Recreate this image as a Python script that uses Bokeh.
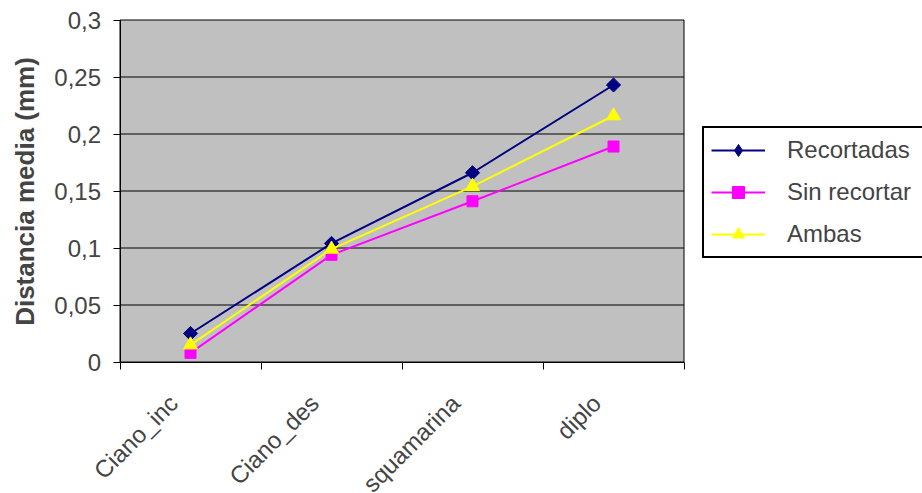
import math

from bokeh.plotting import figure
from bokeh.models import (FixedTicker, CustomJSTickFormatter, Legend, LegendItem,
                          Range1d)
from bokeh.embed import file_html
from bokeh.resources import INLINE

# Categories and series
categories = ["Ciano_inc", "Ciano_des", "squamarina", "diplo"]
recortadas = [0.025, 0.104, 0.166, 0.243]
sin_recortar = [0.008, 0.094, 0.141, 0.189]
ambas = [0.015, 0.099, 0.154, 0.216]
y_ticks = [0, 0.05, 0.1, 0.15, 0.2, 0.25, 0.3]
series_names = ["Recortadas", "Sin recortar", "Ambas"]

FONT = "Liberation Sans"
NAVY, MAGENTA, YELLOW = "#000080", "#FF00FF", "#FFFF00"
GRAY = "#C0C0C0"

# canvas layout (px): plot area box inside the full-canvas frame;
# half-pixel edges keep the 1px rules crisp
W, H = 922, 493
BOX_L, BOX_R, BOX_T, BOX_B = 119.5, 683.5, 19.5, 361.5

n = len(categories)
y_lo, y_hi = y_ticks[0], y_ticks[-1]
kx = (BOX_R - BOX_L) / n                # px per category
ky = (BOX_B - BOX_T) / (y_hi - y_lo)    # px per data unit

x_range = Range1d(-BOX_L / kx, n + (W - BOX_R) / kx)
y_range = Range1d(y_lo - (H - BOX_B) / ky, y_hi + BOX_T / ky)

# category centres sit halfway between the boundary ticks
xs = [i + 0.5 for i in range(n)]
# slanted labels end a little before the category centre
label_pos = [x - 0.12 for x in xs]

p = figure(width=W, height=H, output_backend="svg", toolbar_location=None,
           x_range=x_range, y_range=y_range, min_border=0)

p.background_fill_color = "white"
p.border_fill_color = "white"
p.outline_line_color = None
p.xgrid.grid_line_color = None
p.ygrid.grid_line_color = None

# plot area: gray box with black frame and horizontal gridlines
p.quad(left=[0], right=[n], bottom=[y_lo], top=[y_hi],
       fill_color=GRAY, line_color="black", line_width=1)
p.segment(x0=[0] * (len(y_ticks) - 2), x1=[n] * (len(y_ticks) - 2),
          y0=y_ticks[1:-1], y1=y_ticks[1:-1], line_color="black", line_width=1)

# y axis pinned to the left edge of the plot area
p.yaxis.fixed_location = 0
p.yaxis.bounds = (y_lo, y_hi)
p.yaxis.ticker = FixedTicker(ticks=y_ticks)
p.yaxis.formatter = CustomJSTickFormatter(
    code="return (Math.round(tick*100)/100).toString().replace('.', ',')")
p.yaxis.axis_label = "Distancia media (mm)"
p.yaxis.axis_label_text_font = FONT
p.yaxis.axis_label_text_font_style = "bold"
p.yaxis.axis_label_text_font_size = "26px"
p.yaxis.axis_label_standoff = 12
p.yaxis.major_label_text_font = FONT
p.yaxis.major_label_text_font_size = "24px"
p.yaxis.major_label_standoff = 12
p.yaxis.major_tick_out = 7
p.yaxis.major_tick_in = 0
p.yaxis.minor_tick_line_color = None
p.yaxis.axis_line_color = "black"

# x axis pinned to y = 0: boundary ticks as minor ticks, slanted labels
p.xaxis.fixed_location = y_lo
p.xaxis.bounds = (0, n)
p.xaxis.ticker = FixedTicker(ticks=label_pos, minor_ticks=list(range(n + 1)))
p.xaxis.formatter = CustomJSTickFormatter(
    args=dict(labels=categories), code="return labels[Math.round(tick)]")
p.xaxis.major_tick_out = 0
p.xaxis.major_tick_in = 0
p.xaxis.minor_tick_out = 7
p.xaxis.minor_tick_in = 0
p.xaxis.minor_tick_line_color = "black"
p.xaxis.major_label_orientation = math.pi / 4
p.xaxis.major_label_text_font = FONT
p.xaxis.major_label_text_font_size = "24px"
p.xaxis.major_label_standoff = 30
p.xaxis.axis_line_color = "black"

# series
l1 = p.line(xs, recortadas, line_color=NAVY, line_width=2)
p.scatter(xs, recortadas, marker="square", size=10, angle=math.pi / 4,
          fill_color=NAVY, line_color=NAVY)
k1 = p.scatter(xs, recortadas, marker="diamond", size=16,
               fill_color=NAVY, line_color=NAVY, visible=False)
l2 = p.line(xs, sin_recortar, line_color=MAGENTA, line_width=2)
m2 = p.scatter(xs, sin_recortar, marker="square", size=11,
               fill_color=MAGENTA, line_color=MAGENTA)
l3 = p.line(xs, ambas, line_color=YELLOW, line_width=2)
m3 = p.scatter(xs, ambas, marker="triangle", size=14,
               fill_color=YELLOW, line_color=YELLOW)

legend = Legend(items=[
    LegendItem(label=series_names[0], renderers=[l1, k1]),
    LegendItem(label=series_names[1], renderers=[l2, m2]),
    LegendItem(label=series_names[2], renderers=[l3, m3]),
], location=(702, H - 258))
legend.label_text_font = FONT
legend.label_text_font_size = "24px"
legend.label_standoff = 22
legend.glyph_width = 54
legend.glyph_height = 30
legend.label_height = 30
legend.label_width = 150
legend.spacing = 12
legend.padding = 7
legend.margin = 0
legend.border_line_color = "black"
legend.border_line_alpha = 1
legend.border_line_width = 2
legend.background_fill_color = "white"
legend.background_fill_alpha = 1
p.add_layout(legend, "center")

open("out.html", "w").write(file_html(p, INLINE))
